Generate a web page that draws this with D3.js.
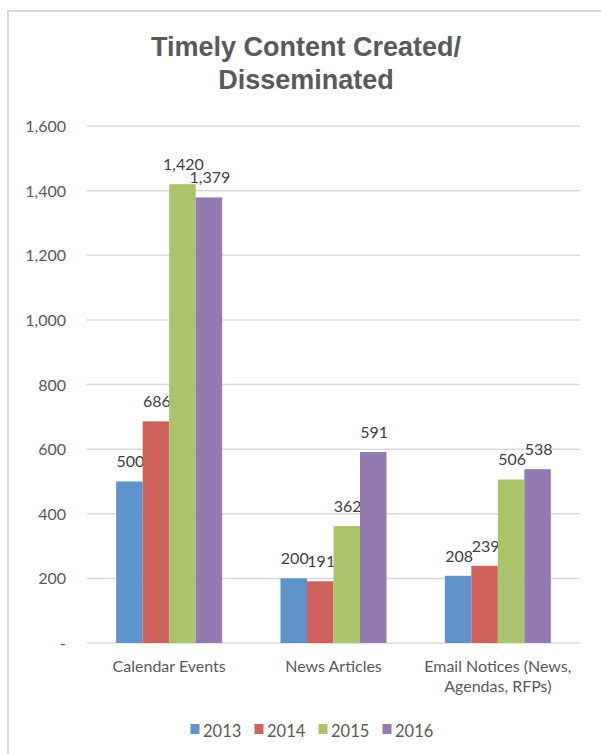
<!DOCTYPE html>
<html>
<head>
<style>
body {margin:0; background:#fff;}
svg {display:block;}
</style>
</head>
<body>
<div id="my_dataviz"></div>
<script src="https://d3js.org/d3.v7.min.js"></script>
<script>
// chart data
var categories = ["Calendar Events", "News Articles", "Email Notices (News,|Agendas, RFPs)"]
var years = ["2013", "2014", "2015", "2016"]
var values2013 = [500, 200, 208]
var values2014 = [686, 191, 239]
var values2015 = [1420, 362, 506]
var values2016 = [1379, 591, 538]
var yTicks = [0, 200, 400, 600, 800, 1000, 1200, 1400, 1600]
var colors = ["#5f94ca", "#cf635b", "#aac46b", "#937bb2"]

var series = [values2013, values2014, values2015, values2016]

var width = 601, height = 754
var plotLeft = 87, plotRight = 580, plotTop = 126, plotBottom = 643

var svg = d3.select("#my_dataviz")
  .append("svg")
    .attr("width", width)
    .attr("height", height)

// chart frame (runs off the right and bottom edges)
svg.append("rect")
  .attr("x", 8).attr("y", 11)
  .attr("width", 700).attr("height", 800)
  .attr("fill", "none")
  .attr("stroke", "#d9d9d9")
  .attr("stroke-width", 2)

// title
var title = svg.append("text")
  .attr("text-anchor", "middle")
  .style("font-family", "'Liberation Sans', Arial, sans-serif")
  .style("font-weight", "bold")
  .style("font-size", "27px")
  .attr("fill", "#595959")
title.append("tspan").attr("x", 306).attr("y", 56).text("Timely Content Created/")
title.append("tspan").attr("x", 306).attr("y", 89).text("Disseminated")

var y = d3.scaleLinear().domain([0, 1600]).range([plotBottom, plotTop])
var x = d3.scaleBand().domain(d3.range(categories.length))
  .range([plotLeft, plotRight]).paddingInner(0.355).paddingOuter(0.1775)
var xs = d3.scaleBand().domain(d3.range(years.length)).range([0, x.bandwidth()])

// gridlines
svg.selectAll(".grid")
  .data(yTicks)
  .enter()
  .append("line")
    .attr("x1", plotLeft).attr("x2", plotRight)
    .attr("y1", d => y(d)).attr("y2", d => y(d))
    .attr("stroke", "#d9d9d9")
    .attr("stroke-width", 1.5)

// y axis labels
svg.selectAll(".ytick")
  .data(yTicks)
  .enter()
  .append("text")
    .attr("x", 66)
    .attr("y", d => y(d) + 6)
    .attr("text-anchor", "end")
    .style("font-family", "Lato, sans-serif")
    .style("font-size", "16px")
    .attr("fill", "#595959")
    .text(d => d === 0 ? "-" : d3.format(",")(d))

// bars
series.forEach(function(vals, s) {
  svg.selectAll(".bar" + s)
    .data(vals)
    .enter()
    .append("rect")
      .attr("x", (d, i) => x(i) + xs(s))
      .attr("y", d => y(d))
      .attr("width", xs.bandwidth())
      .attr("height", d => plotBottom - y(d))
      .attr("fill", colors[s])

  svg.selectAll(".lab" + s)
    .data(vals)
    .enter()
    .append("text")
      .attr("x", (d, i) => x(i) + xs(s) + xs.bandwidth() / 2 + 1)
      .attr("y", d => y(d) - 14)
      .attr("text-anchor", "middle")
      .style("font-family", "Lato, sans-serif")
      .style("font-size", "16px")
      .attr("fill", "#404040")
      .text(d => d3.format(",")(d))
})

// category labels
categories.forEach(function(c, i) {
  var t = svg.append("text")
    .attr("text-anchor", "middle")
    .style("font-family", "Lato, sans-serif")
    .style("font-size", "16px")
    .attr("fill", "#595959")
  c.split("|").forEach(function(line, k) {
    t.append("tspan")
      .attr("x", x(i) + x.bandwidth() / 2)
      .attr("y", 672 + k * 20)
      .text(line)
  })
})

// legend
var legend = svg.selectAll(".legend")
  .data(years)
  .enter()
  .append("g")
    .attr("transform", (d, i) => "translate(" + (190.5 + i * 64) + ",724)")
legend.append("rect")
  .attr("width", 9).attr("height", 10)
  .attr("fill", (d, i) => colors[i])
legend.append("text")
  .attr("x", 12.5).attr("y", 13)
  .style("font-family", "Lato, sans-serif")
  .style("font-size", "16.5px")
  .attr("fill", "#595959")
  .text(d => d)
</script>
</body>
</html>
